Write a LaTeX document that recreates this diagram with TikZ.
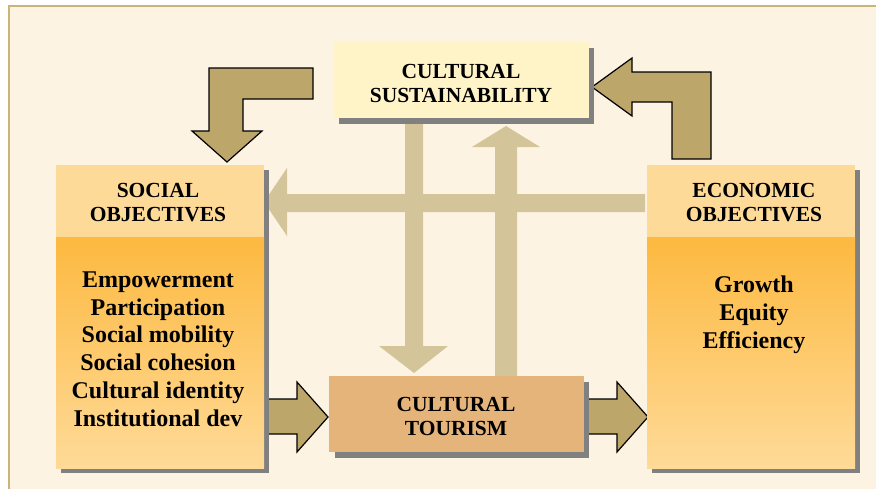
\documentclass[tikz,border=0pt]{standalone}
\usepackage{fontspec}
\setmainfont{Liberation Serif}
\definecolor{bgc}{HTML}{FDF3E3}
\definecolor{framec}{HTML}{C9B57A}
\definecolor{shadowc}{HTML}{808080}
\definecolor{hdrc}{HTML}{FEDA98}
\definecolor{bodytop}{HTML}{FDB940}
\definecolor{sustc}{HTML}{FFF4C8}
\definecolor{tourc}{HTML}{E5B47A}
\definecolor{lightarr}{HTML}{D4C49A}
\definecolor{darkarr}{HTML}{BDA66A}
\tikzset{
  hdrfont/.style={font=\bfseries\fontsize{21.5}{24}\selectfont},
  bodyfont/.style={font=\bfseries\fontsize{24}{27.8}\selectfont},
  boxbase/.style={anchor=north west, inner sep=0pt, align=center, hdrfont},
  hdrbox/.style={boxbase, fill=hdrc},
  shadowbox/.style={fill=shadowc},
  lightarrow/.style={fill=lightarr},
  darkarrow/.style={fill=darkarr, draw=black, line width=1.2pt, line join=miter},
}
\begin{document}
\begin{tikzpicture}[x=1pt,y=-1pt]
\useasboundingbox (0,0) rectangle (876,488);
\fill[white] (0,0) rectangle (876,488);
\fill[bgc] (9,6) rectangle (878,490);
\draw[framec, line width=1.5pt] (9,490) -- (9,6) -- (878,6);

% light arrows
\fill[lightarrow] (645,194) -- (287,194) -- (287,168) -- (264,202) -- (287,236) -- (287,212) -- (645,212) -- cycle;
\fill[lightarrow] (405,124) -- (423,124) -- (423,346) -- (448,346) -- (414,373) -- (379,346) -- (405,346) -- cycle;
\fill[lightarrow] (495,376) -- (495,147) -- (472,147) -- (506,126) -- (540,147) -- (517,147) -- (517,376) -- cycle;

% dark block arrows
\draw[darkarrow] (313,68) -- (209,68) -- (209,131) -- (192,131) -- (227,162) -- (262,131) -- (243,131) -- (243,99) -- (313,99) -- cycle;
\draw[darkarrow] (592,87) -- (632,58) -- (632,72) -- (711,72) -- (711,159) -- (672,159) -- (672,102) -- (632,102) -- (632,116) -- cycle;
\draw[darkarrow] (262,399) -- (297,399) -- (297,382) -- (328,417) -- (297,452) -- (297,434) -- (262,434) -- cycle;
\draw[darkarrow] (580,399) -- (617,399) -- (617,382) -- (648,417) -- (617,452) -- (617,434) -- (580,434) -- cycle;

% shadows
\fill[shadowbox] (61,170) rectangle (269,473);
\fill[shadowbox] (652,170) rectangle (860,473);
\fill[shadowbox] (339,48) rectangle (594,124);
\fill[shadowbox] (335,382) rectangle (589,458);

% social objectives
\node[hdrbox, minimum width=208pt, minimum height=72pt] (socH) at (56,165) {};
\node[hdrfont, align=center, inner sep=0pt] (socHT) at (158,203) {SOCIAL\\OBJECTIVES};
\node[boxbase, top color=bodytop, bottom color=hdrc, minimum width=208pt, minimum height=231pt] (socB) at (56,237) {};
\node[bodyfont, align=center, inner sep=0pt] (socT) at (158,349) {Empowerment\\Participation\\Social mobility\\Social cohesion\\Cultural identity\\Institutional dev};

% economic objectives
\node[hdrbox, minimum width=208pt, minimum height=72pt] (ecoH) at (647,165) {};
\node[hdrfont, align=center, inner sep=0pt] (ecoHT) at (754,203) {ECONOMIC\\OBJECTIVES};
\node[boxbase, top color=bodytop, bottom color=hdrc, minimum width=208pt, minimum height=231pt] (ecoB) at (647,237) {};
\node[bodyfont, align=center, inner sep=0pt] (ecoT) at (754,315) {Growth\\Equity\\Efficiency};

% cultural sustainability
\node[boxbase, fill=sustc, minimum width=255pt, minimum height=76pt] (sust) at (334,42) {};
\node[hdrfont, align=center, inner sep=0pt] (sustT) at (461,83) {CULTURAL\\SUSTAINABILITY};

% cultural tourism
\node[boxbase, fill=tourc, minimum width=255pt, minimum height=76pt] (tour) at (329,376) {};
\node[hdrfont, align=center, inner sep=0pt] (tourT) at (456,416) {CULTURAL\\TOURISM};
\end{tikzpicture}
\end{document}
